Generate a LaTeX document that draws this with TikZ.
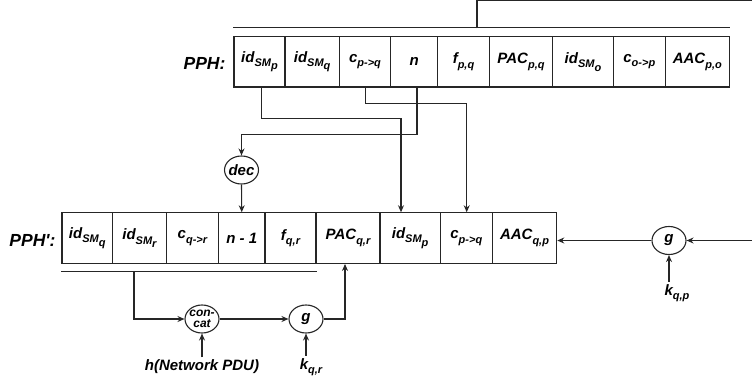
\documentclass[tikz,border=0pt]{standalone}
\usepackage{fontspec}
\setmainfont{Liberation Sans}
\usetikzlibrary{shapes.geometric,arrows.meta}
\newcommand{\sbx}[1]{\raisebox{-0.3em}{\fontsize{11}{12}\selectfont #1}}
\begin{document}
\begin{tikzpicture}[x=1pt,y=-1pt,
  line width=1.1pt, draw=black!85,
  font=\fontsize{15}{17}\selectfont\bfseries\itshape,
  cell/.style={draw, rectangle, inner sep=0pt, minimum height=50.6pt, anchor=center},
  ell/.style={draw, ellipse, minimum width=34pt, minimum height=28pt, inner sep=-2pt},
  arr/.style={-{Stealth[length=7pt,width=6pt]}},
  lbl/.style={font=\fontsize{17.5}{20}\selectfont\bfseries\itshape, inner sep=0pt},
  txt/.style={inner sep=2pt}]
\useasboundingbox (0,0) rectangle (752,385);
\clip (0,0) rectangle (752,385);

% top row
\node[lbl, anchor=east] (pph) at (226,63) {PPH:};
\node[cell, minimum width=51pt]   (t1) at (259.5,61.75) {id\sbx{SM\sbx{p}}};
\node[cell, minimum width=54.3pt] (t2) at (312.15,61.75) {id\sbx{SM\sbx{q}}};
\node[cell, minimum width=51.4pt] (t3) at (365,61.75) {c\sbx{p->q}};
\node[cell, minimum width=47pt]   (t4) at (414.2,61.75) {n};
\node[cell, minimum width=51.6pt] (t5) at (463.5,61.75) {f\sbx{p,q}};
\node[cell, minimum width=63.4pt] (t6) at (521,61.75) {PAC\sbx{p,q}};
\node[cell, minimum width=60.6pt] (t7) at (583,61.75) {id\sbx{SM\sbx{o}}};
\node[cell, minimum width=52pt]   (t8) at (639.3,61.75) {c\sbx{o->p}};
\node[cell, minimum width=64pt]   (t9) at (697.3,61.75) {AAC\sbx{p,o}};

% bottom row
\node[lbl, anchor=east] (pph2) at (56,240) {PPH\textquotesingle:};
\node[cell, minimum width=50.5pt] (b1) at (87.25,238.1) {id\sbx{SM\sbx{q}}};
\node[cell, minimum width=53.9pt] (b2) at (139.45,238.1) {id\sbx{SM\sbx{r}}};
\node[cell, minimum width=52.1pt] (b3) at (192.45,238.1) {c\sbx{q->r}};
\node[cell, minimum width=46.5pt] (b4) at (241.75,238.1) {n - 1};
\node[cell, minimum width=51pt]   (b5) at (290.5,238.1) {f\sbx{q,r}};
\node[cell, minimum width=64pt]   (b6) at (348,238.1) {PAC\sbx{q,r}};
\node[cell, minimum width=60.3pt] (b7) at (410.15,238.1) {id\sbx{SM\sbx{p}}};
\node[cell, minimum width=52pt]   (b8) at (466.3,238.1) {c\sbx{p->q}};
\node[cell, minimum width=64.4pt] (b9) at (524.5,238.1) {AAC\sbx{q,p}};

% function nodes
\node[ell] (dec) at (241.5,170) {dec};
\node[ell, align=center, inner sep=-6pt, font=\fontsize{12}{11}\selectfont\bfseries\itshape] (concat) at (202,319) {con-\\cat};
\node[ell] (g1) at (306,319) {g};
\node[ell] (g2) at (669,240.5) {g};

% input labels
\node[txt] (h) at (202,367) {h(Network PDU)};
\node[txt] (kqr) at (311,367) {k\sbx{q,r}};
\node[txt] (kqp) at (677,293) {k\sbx{q,p}};

% helper x positions
\coordinate (xa) at (261.7,0);
\coordinate (xb) at (365.7,0);
\coordinate (xc) at (417,0);
\coordinate (xd) at (401,0);
\coordinate (xe) at (466.7,0);
\coordinate (xf) at (134,0);
\coordinate (xg) at (345,0);

% top underline and feed from the right
\coordinate (ul1) at ([yshift=8.3pt]t1.north west);
\draw (ul1) -- (ul1 -| t9.north east);
\coordinate (tl) at (477,28.3);
\coordinate (tr) at (775,0.8);
\draw[arr] (tl) |- (tr) |- (g2.east);
\draw[arr] (g2.west) -- (b9.east |- g2);
\draw[arr] (kqp.north -| g2) -- (g2.south);

% copies from PPH to PPH'
\draw[arr] (t1.south -| xa) -- ++(0,31.3) -| (b7.north -| xd);
\draw[arr] (t3.south -| xb) -- ++(0,16.3) -| (b8.north -| xe);
\draw[arr] (t4.south -| xc) -- ++(0,47.3) -| (dec.north);
\draw[arr] (dec.south) -- (b4.north);

% bottom underline and MAC chain
\coordinate (ul2) at ([yshift=-7.2pt]b1.south west);
\draw (ul2) -- (ul2 -| b5.south east);
\draw[arr] (ul2 -| xf) |- (concat.west);
\draw[arr] (concat) -- (g1);
\draw[arr] (g1.east) -| (b6.south -| xg);
\draw[arr] (h.north) -- (concat.south);
\draw[arr] (kqr.north -| g1) -- (g1.south);
\end{tikzpicture}
\end{document}
